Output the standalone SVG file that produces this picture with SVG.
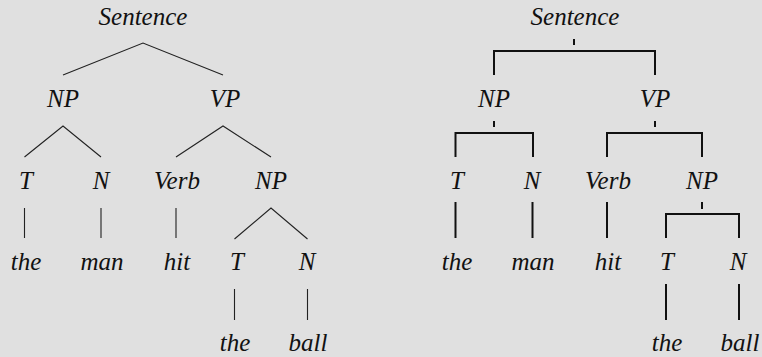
<svg xmlns="http://www.w3.org/2000/svg" width="762" height="357" viewBox="0 0 762 357">
<style>
text{font-size:25px;fill:#111;text-anchor:middle}
.thin{stroke:#222;stroke-width:1.1;fill:none}
.thick{stroke:#111;stroke-width:2;fill:none}
</style>
<rect width="762" height="357" fill="#e0e0e0"/>
<g id="left-connectors">
<path class="thin" d="M63,75 L143,43 L223,75"/>
<path class="thin" d="M24.5,157 L63,126 L101,157"/>
<path class="thin" d="M176,157 L223,126 L271,157"/>
<path class="thin" d="M24.5,208 V238 M101,208 V238 M176,208 V238"/>
<path class="thin" d="M234.5,239 L271,208 L307.5,239"/>
<path class="thin" d="M234.5,289 V320 M307.5,289 V320"/>
</g>
<g id="left-nodes">
<g id="l-sentence"><text x="143" y="25" font-family="Liberation Serif" font-style="italic">Sentence</text></g>
<g id="l-np"><text x="63" y="107" font-family="Liberation Serif" font-style="italic">NP</text></g>
<g id="l-vp"><text x="225" y="107" font-family="Liberation Serif" font-style="italic">VP</text></g>
<g id="l-t"><text x="26" y="189" font-family="Liberation Serif" font-style="italic">T</text></g>
<g id="l-n"><text x="101" y="189" font-family="Liberation Serif" font-style="italic">N</text></g>
<g id="l-verb"><text x="177" y="189" font-family="Liberation Serif" font-style="italic">Verb</text></g>
<g id="l-np2"><text x="271" y="189" font-family="Liberation Serif" font-style="italic">NP</text></g>
<g id="l-the"><text x="26" y="270" font-family="Liberation Serif" font-style="italic">the</text></g>
<g id="l-man"><text x="102" y="270" font-family="Liberation Serif" font-style="italic">man</text></g>
<g id="l-hit"><text x="177" y="270" font-family="Liberation Serif" font-style="italic">hit</text></g>
<g id="l-t2"><text x="237" y="270" font-family="Liberation Serif" font-style="italic">T</text></g>
<g id="l-n2"><text x="307" y="270" font-family="Liberation Serif" font-style="italic">N</text></g>
<g id="l-the2"><text x="235" y="351" font-family="Liberation Serif" font-style="italic">the</text></g>
<g id="l-ball"><text x="308" y="351" font-family="Liberation Serif" font-style="italic">ball</text></g>
</g>
<g id="right-connectors">
<path class="thick" d="M574,39 V45"/>
<path class="thick" d="M494,75 V51 H655 V75"/>
<path class="thick" d="M494,121 V127"/>
<path class="thick" d="M455.5,157 V133 H533 V157"/>
<path class="thick" d="M655,121 V127"/>
<path class="thick" d="M607,157 V133 H702 V157"/>
<path class="thick" d="M455.5,202 V238 M532.5,202 V238 M607,202 V238"/>
<path class="thick" d="M702,202 V209"/>
<path class="thick" d="M666,238 V214 H739 V238"/>
<path class="thick" d="M666,284 V320 M739,284 V320"/>
</g>
<g id="right-nodes">
<g id="r-sentence"><text x="575" y="25" font-family="Liberation Serif" font-style="italic">Sentence</text></g>
<g id="r-np"><text x="494" y="107" font-family="Liberation Serif" font-style="italic">NP</text></g>
<g id="r-vp"><text x="655" y="107" font-family="Liberation Serif" font-style="italic">VP</text></g>
<g id="r-t"><text x="457" y="189" font-family="Liberation Serif" font-style="italic">T</text></g>
<g id="r-n"><text x="532" y="189" font-family="Liberation Serif" font-style="italic">N</text></g>
<g id="r-verb"><text x="608" y="189" font-family="Liberation Serif" font-style="italic">Verb</text></g>
<g id="r-np2"><text x="702" y="189" font-family="Liberation Serif" font-style="italic">NP</text></g>
<g id="r-the"><text x="457" y="270" font-family="Liberation Serif" font-style="italic">the</text></g>
<g id="r-man"><text x="533" y="270" font-family="Liberation Serif" font-style="italic">man</text></g>
<g id="r-hit"><text x="608" y="270" font-family="Liberation Serif" font-style="italic">hit</text></g>
<g id="r-t2"><text x="667" y="270" font-family="Liberation Serif" font-style="italic">T</text></g>
<g id="r-n2"><text x="738" y="270" font-family="Liberation Serif" font-style="italic">N</text></g>
<g id="r-the2"><text x="667" y="351" font-family="Liberation Serif" font-style="italic">the</text></g>
<g id="r-ball"><text x="740" y="351" font-family="Liberation Serif" font-style="italic">ball</text></g>
</g>
</svg>
